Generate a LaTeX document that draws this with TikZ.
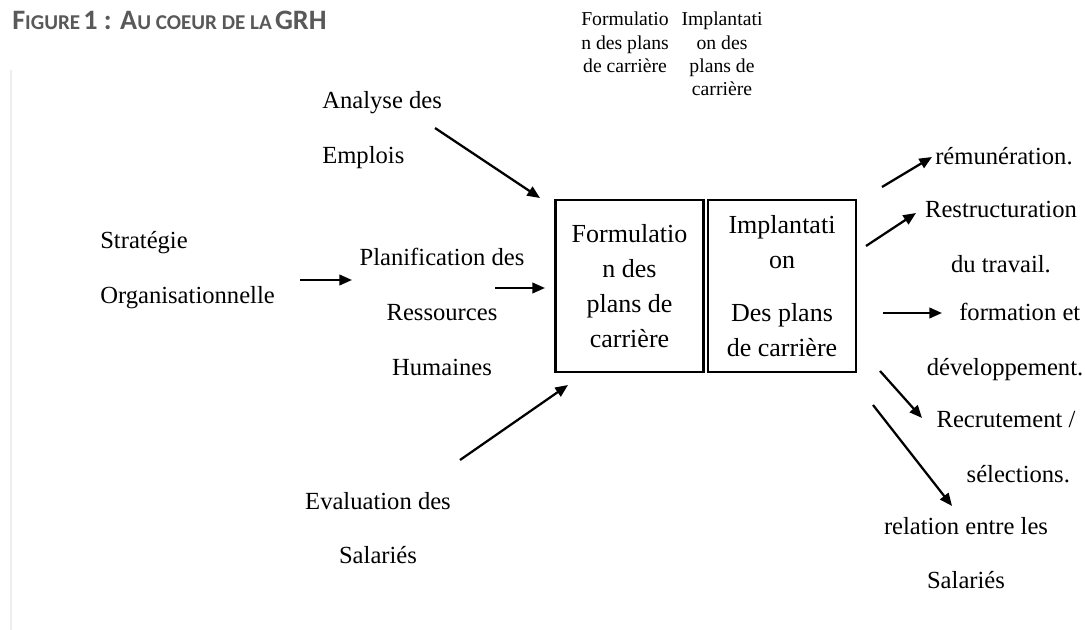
\documentclass[tikz,border=0pt]{standalone}
\usepackage{fontspec}
\setmainfont{Liberation Serif}
\newfontfamily\titlefont{Carlito}
\usepackage{tikz}
\usetikzlibrary{arrows.meta}
\definecolor{titlegrey}{HTML}{595959}
\definecolor{rulegrey}{HTML}{EEEEEE}

\newcommand{\capbig}[1]{{\fontsize{20}{22}\selectfont #1}}
\newcommand{\capsmall}[1]{{\fontsize{15}{17}\selectfont #1}}

\tikzset{
  lbl/.style={inner sep=0pt, font=\fontsize{17.5}{39}\selectfont},
  toplbl/.style={inner sep=0pt, align=center, font=\fontsize{14}{16.5}\selectfont},
  boxlbl/.style={draw, line width=2pt, inner sep=0pt, align=center,
                 minimum width=3.7cm, minimum height=4.3cm,
                 font=\fontsize{18.5}{25}\selectfont},
  flowarrow/.style={line width=1.6pt, -{Triangle[length=9pt,width=7.5pt]}}
}

\begin{document}
\begin{tikzpicture}[x=0.025cm, y=-0.025cm]
  \useasboundingbox (0,0) rectangle (1085,630);
  \draw[rulegrey, line width=1pt] (11,70) -- (11,630);

  % title and small captions
  \node[anchor=west, inner sep=0pt, text=titlegrey, font=\titlefont\bfseries] (titre) at (12,20)
    {\capbig{F}\capsmall{IGURE} \capbig{1 : A}\capsmall{U COEUR DE LA} \capbig{GRH}};
  \node[toplbl, anchor=north] (topform) at (625,12) {Formulatio\\n des plans\\de carrière};
  \node[toplbl, anchor=north] (topimpl) at (722,12) {Implantati\\on des\\plans de\\carrière};

  % central boxes
  \node[boxlbl] (formulation) at (629.5,286) {Formulatio\\n des\\plans de\\carrière};
  \node[boxlbl] (implantation) at (782,286) {Implantati\\on\\[13pt]Des plans\\de carrière};

  % inputs
  \node[lbl, anchor=west, align=left] (analyse) at (322,130) {Analyse des\\Emplois};
  \node[lbl, anchor=west, align=left] (strategie) at (100,270) {Stratégie\\Organisationnelle};
  \node[lbl, align=center] (planif) at (442,312) {Planification des\\Ressources\\Humaines};
  \node[lbl, align=center] (evaluation) at (378,528) {Evaluation des\\Salariés};

  % outputs
  \node[lbl, anchor=west] (remun) at (935,156) {rémunération.};
  \node[lbl, align=center] (restruct) at (1001,237) {Restructuration\\du travail.};
  \node[lbl, align=center] (formation) at (1005,342) {\hspace*{1.2em}formation et\\développement.};
  \node[lbl, align=center] (recrut) at (1006,447) {Recrutement /\\\hspace*{1em}sélections.};
  \node[lbl, align=center] (relation) at (966,553) {relation entre les\\Salariés};

  % arrow ends
  \coordinate (analyse-out) at (435,128);
  \coordinate (formulation-in1) at (540,198);
  \coordinate (strategie-out) at (300,280);
  \coordinate (planif-in) at (352,280);
  \coordinate (planif-out) at (495,288);
  \coordinate (formulation-in2) at (545,288);
  \coordinate (evaluation-out) at (460,460);
  \coordinate (formulation-in3) at (568,385);
  \coordinate (implantation-out1) at (882,187);
  \coordinate (implantation-out2) at (866,246);
  \coordinate (implantation-out3) at (883,313);
  \coordinate (implantation-out4) at (880,371);
  \coordinate (implantation-out5) at (873,405);
  \coordinate (remun-in) at (932,157);
  \coordinate (restruct-in) at (916,213);
  \coordinate (formation-in) at (942,313);
  \coordinate (recrut-in) at (922,418);
  \coordinate (relation-in) at (952,506);

  \draw[flowarrow] (analyse-out) -- (formulation-in1);
  \draw[flowarrow] (strategie-out) -- (planif-in);
  \draw[flowarrow] (planif-out) -- (formulation-in2);
  \draw[flowarrow] (evaluation-out) -- (formulation-in3);

  \draw[flowarrow] (implantation-out1) -- (remun-in);
  \draw[flowarrow] (implantation-out2) -- (restruct-in);
  \draw[flowarrow] (implantation-out3) -- (formation-in);
  \draw[flowarrow] (implantation-out4) -- (recrut-in);
  \draw[flowarrow] (implantation-out5) -- (relation-in);
\end{tikzpicture}
\end{document}
